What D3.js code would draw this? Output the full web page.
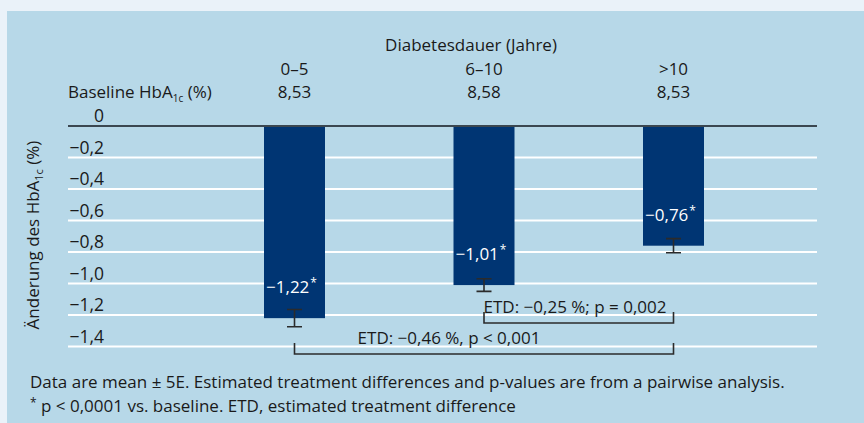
<!DOCTYPE html>
<meta charset="utf-8">
<style>
body { margin: 0; background: #eaf2f9; }
svg { display: block; }
text { font-family: "Open Sans", "Noto Sans", sans-serif; fill: #1a1a1a; }
.grid line { stroke: #fff; stroke-width: 2; }
.zero { stroke: #3b4750; stroke-width: 2.2; }
.err, .brk { fill: none; stroke: #2b2b2b; stroke-width: 1.6; }
</style>
<svg id="plot" width="864" height="423"></svg>
<script src="https://d3js.org/d3.v7.min.js"></script>
<script>

var categories = ["0–5", "6–10", ">10"];
var baseline = ["8,53", "8,58", "8,53"];
var change = [-1.22, -1.01, -0.76];
var se = [0.055, 0.04, 0.045];
var valueLabels = ["−1,22", "−1,01", "−0,76"];
var ticks = [0, -0.2, -0.4, -0.6, -0.8, -1.0, -1.2, -1.4];
var brackets = [
  {from: 1, to: 2, label: "ETD: −0,25 %; p = 0,002"},
  {from: 0, to: 2, label: "ETD: −0,46 %, p < 0,001"}
];

var svg = d3.select("svg");

// panel
svg.append("rect")
    .attr("x", 7).attr("y", 11)
    .attr("width", 857).attr("height", 412)
    .attr("fill", "#b7d8e8");

var y = d3.scaleLinear().domain([0, -1.4]).range([126, 346.5]);
var x = d3.scalePoint().domain(categories).range([294.5, 673.5]);
var barW = 61;
var left = 68, right = 817;

// gridlines
svg.append("g").attr("class", "grid")
  .selectAll("line").data(ticks.slice(1)).enter().append("line")
    .attr("x1", left).attr("x2", right)
    .attr("y1", function(d) { return y(d); })
    .attr("y2", function(d) { return y(d); });

var fmt = function(d) { return d === 0 ? "0" : "−" + d3.format(".1f")(-d).replace(".", ","); };

svg.append("g")
  .selectAll("text").data(ticks).enter().append("text")
    .attr("x", 104)
    .attr("y", function(d) { return y(d) - 4; })
    .attr("text-anchor", "end")
    .style("font-size", "17.5px")
    .text(fmt);

// bars
svg.append("g")
  .selectAll("rect").data(change).enter().append("rect")
    .attr("x", function(d, i) { return x(categories[i]) - barW / 2; })
    .attr("y", y(0))
    .attr("width", barW)
    .attr("height", function(d) { return y(d) - y(0); })
    .attr("fill", "#003573");

svg.append("line").attr("class", "zero")
    .attr("x1", left).attr("x2", right)
    .attr("y1", y(0)).attr("y2", y(0));

// error bars
var err = svg.append("g").selectAll("g").data(change).enter().append("g");
err.append("path").attr("class", "err")
    .attr("d", function(d, i) {
      var cx = x(categories[i]), t = y(d + se[i]), b = y(d - se[i]);
      return "M" + (cx - 7.5) + "," + t + "H" + (cx + 7.5) +
             "M" + cx + "," + t + "V" + b +
             "M" + (cx - 7.5) + "," + b + "H" + (cx + 7.5);
    });

// value labels
var vl = svg.append("g").selectAll("text").data(change).enter().append("text")
    .attr("x", function(d, i) { return x(categories[i]) - 3; })
    .attr("y", function(d) { return y(d) - 25; })
    .attr("text-anchor", "middle")
    .style("font-size", "17px")
    .style("fill", "#fff");
vl.append("tspan").text(function(d, i) { return valueLabels[i]; });
vl.append("tspan").attr("dx", 1).attr("dy", -6).style("font-size", "12px").text("*");

// header
svg.append("text")
    .attr("x", 471).attr("y", 51)
    .attr("text-anchor", "middle")
    .style("font-size", "17px")
    .text("Diabetesdauer (Jahre)");

svg.append("g").selectAll("text").data(categories).enter().append("text")
    .attr("x", function(d) { return x(d); })
    .attr("y", 75)
    .attr("text-anchor", "middle")
    .style("font-size", "17px")
    .text(function(d) { return d; });

svg.append("g").selectAll("text").data(baseline).enter().append("text")
    .attr("x", function(d, i) { return x(categories[i]); })
    .attr("y", 98)
    .attr("text-anchor", "middle")
    .style("font-size", "17px")
    .text(function(d) { return d; });

var bl = svg.append("text").attr("x", 68).attr("y", 98).style("font-size", "17px");
bl.append("tspan").text("Baseline HbA");
bl.append("tspan").attr("dy", 4).style("font-size", "10px").text("1c");
bl.append("tspan").attr("dy", -4).text(" (%)");

// y label
var yl = svg.append("text")
    .attr("transform", "translate(39,235) rotate(-90)")
    .attr("text-anchor", "middle")
    .style("font-size", "17px");
yl.append("tspan").text("Änderung des HbA");
yl.append("tspan").attr("dy", 4).style("font-size", "11px").text("1c");
yl.append("tspan").attr("dy", -4).text(" (%)");

// brackets
var brY = [323, 354];
var bg = svg.append("g").selectAll("g").data(brackets).enter().append("g");
bg.append("path").attr("class", "brk")
    .attr("d", function(d, i) {
      var x1 = x(categories[d.from]), x2 = x(categories[d.to]);
      return "M" + x1 + "," + (brY[i] - 11) + "V" + brY[i] + "H" + x2 + "V" + (brY[i] - 11);
    });
bg.append("text")
    .attr("x", function(d, i) { return i === 0 ? 575 : 449; })
    .attr("y", function(d, i) { return brY[i] - 10; })
    .attr("text-anchor", "middle")
    .style("font-size", "17px")
    .text(function(d) { return d.label; });

// footnote
svg.append("text").attr("x", 30).attr("y", 388).style("font-size", "17px")
    .text("Data are mean ± 5E. Estimated treatment differences and p-values are from a pairwise analysis.");
var fn = svg.append("text").attr("x", 30).attr("y", 412).style("font-size", "17px");
fn.append("tspan").attr("dy", -5).style("font-size", "12px").text("*");
fn.append("tspan").attr("dy", 5).text(" p < 0,0001 vs. baseline. ETD, estimated treatment difference");

</script>
